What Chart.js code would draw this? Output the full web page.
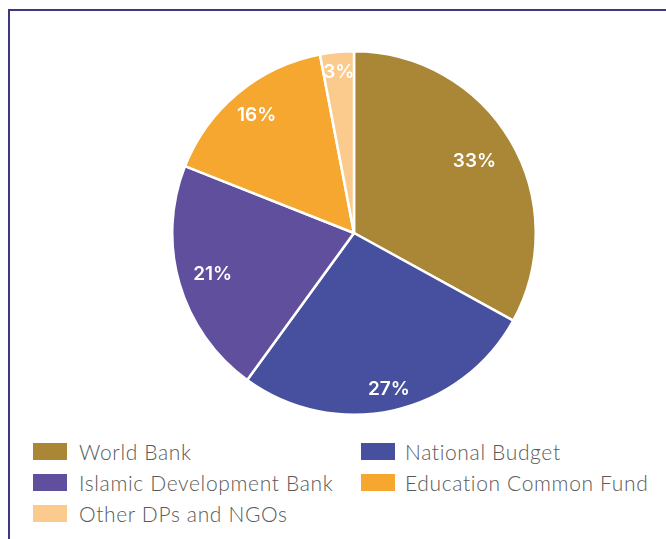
<!DOCTYPE html>
<html>
<head>
<meta charset="utf-8">
<script src="https://cdn.jsdelivr.net/npm/chart.js@4.4.1/dist/chart.umd.min.js"></script>
<style>
  html, body { margin:0; padding:0; background:#fff; }
  body { width:666px; height:539px; position:relative; overflow:hidden; font-family:'Lato', sans-serif; }
  .frame { position:absolute; left:8px; top:9px; right:-10px; bottom:-10px;
           border-left:2px solid #3d3883; border-top:2px solid #3d3883; }
  .pie-box { position:absolute; left:171px; top:50px; width:366px; height:366px; }
  #legend { position:absolute; left:33px; top:442px; display:grid;
            grid-template-columns:250px 300px; row-gap:12px; column-gap:78px; }
  .item { display:flex; align-items:center; height:19px; white-space:nowrap; }
  .swatch { width:34px; height:17px; margin-right:12px; flex:none; }
  .item.right .swatch { margin-right:10px; }
  .txt { font-size:21px; font-weight:300; color:#5a5a5a; letter-spacing:0.65px; }
</style>
</head>
<body>
<div class="frame"></div>
<div class="pie-box"><canvas id="pie"></canvas></div>
<div id="legend"></div>

<script>
// ---- DATA ----
const sources = ["World Bank", "National Budget", "Islamic Development Bank", "Education Common Fund", "Other DPs and NGOs"];
const shares = [33, 27, 21, 16, 3];
const sliceColors = ["#a98736", "#46509e", "#5f4f9c", "#f6a72f", "#fbcb8e"];

// label distance from centre, as a fraction of the radius, per slice
const labelRadius = [0.77, 0.88, 0.81, 0.84, 0.89];

// ---- PERCENT LABELS ----
const pctLabels = {
  id: 'pctLabels',
  afterDatasetsDraw(chart) {
    const ctx = chart.ctx;
    const meta = chart.getDatasetMeta(0);
    ctx.save();
    ctx.fillStyle = '#fff';
    ctx.font = '600 19px Inter, sans-serif';
    ctx.textAlign = 'center';
    ctx.textBaseline = 'middle';
    meta.data.forEach((arc, i) => {
      const p = arc.getProps(['x','y','startAngle','endAngle','outerRadius'], true);
      const mid = (p.startAngle + p.endAngle) / 2;
      const r = p.outerRadius * labelRadius[i];
      ctx.fillText(shares[i] + '%', p.x + Math.cos(mid) * r, p.y + Math.sin(mid) * r);
    });
    ctx.restore();
  }
};

const chart = new Chart(document.getElementById('pie'), {
  type: 'pie',
  data: {
    labels: sources,
    datasets: [{
      data: shares,
      backgroundColor: sliceColors,
      borderColor: '#fff',
      borderWidth: 2.5
    }]
  },
  options: {
    responsive: true,
    maintainAspectRatio: false,
    animation: false,
    layout: { padding: 0 },
    plugins: { legend: { display: false }, tooltip: { enabled: false } }
  },
  plugins: [pctLabels]
});

// ---- LEGEND ----
const legendEl = document.getElementById('legend');
sources.forEach((name, i) => {
  const item = document.createElement('div');
  item.className = 'item' + (i % 2 ? ' right' : '');
  item.innerHTML = `<span class="swatch" style="background:${sliceColors[i]}"></span><span class="txt">${name}</span>`;
  legendEl.appendChild(item);
});
</script>
</body>
</html>
